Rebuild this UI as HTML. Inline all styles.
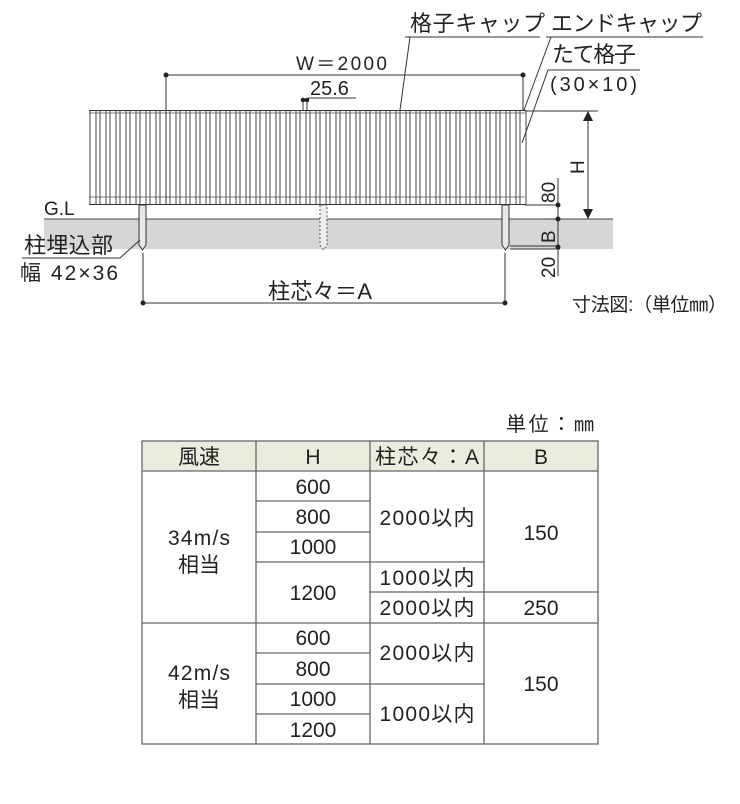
<!DOCTYPE html>
<html><head><meta charset="utf-8"><style>
html,body{margin:0;padding:0;background:#fff;}
svg{display:block;}
text{font-family:"Liberation Sans","Noto Sans CJK JP",sans-serif;fill:#222;}
</style></head><body>
<svg width="740" height="804" viewBox="0 0 740 804" xmlns="http://www.w3.org/2000/svg">
<defs>
<rect id="s" x="0" y="110.5" width="6" height="94" fill="#fff" stroke="#333" stroke-width="0.9"/>
<g id="s5"><use href="#s" x="0"/><use href="#s" x="10"/><use href="#s" x="20"/><use href="#s" x="30"/><use href="#s" x="40"/></g>
</defs>
<!-- ground -->
<rect x="44" y="219" width="569" height="30" fill="#d6d6d6"/>
<line x1="44" y1="219" x2="613" y2="219" stroke="#444" stroke-width="1"/>
<!-- fence -->
<g transform="translate(90,0)">
<use href="#s5" x="0"/><use href="#s5" x="50"/><use href="#s5" x="100"/><use href="#s5" x="150"/>
<use href="#s5" x="200"/><use href="#s5" x="250"/><use href="#s5" x="300"/><use href="#s5" x="350"/>
<use href="#s" x="400"/><use href="#s" x="410"/><use href="#s" x="420"/><use href="#s" x="430"/>
</g>
<line x1="89" y1="113" x2="525" y2="113" stroke="#555" stroke-width="0.7"/>
<line x1="89" y1="197" x2="525" y2="197" stroke="#555" stroke-width="0.7"/>
<line x1="89" y1="110.5" x2="525" y2="110.5" stroke="#333" stroke-width="1"/>
<line x1="89" y1="204.5" x2="525" y2="204.5" stroke="#333" stroke-width="1"/>
<!-- posts -->
<path d="M139 205 V245 L142.5 250 L146 245 V205 Z" fill="#e8e8e8" stroke="#333" stroke-width="1"/>
<path d="M320 205 V245 L323.5 250 L327 245 V205 Z" fill="#eee" stroke="#555" stroke-width="1" stroke-dasharray="2,2"/>
<path d="M502 205 V245 L505.5 250 L509 245 V205 Z" fill="#e8e8e8" stroke="#333" stroke-width="1"/>
<!-- W dimension -->
<line x1="166" y1="75" x2="523" y2="75" stroke="#333" stroke-width="1"/>
<line x1="166" y1="75" x2="166" y2="205" stroke="#333" stroke-width="1"/>
<line x1="523" y1="75" x2="523" y2="110" stroke="#333" stroke-width="1"/>
<circle cx="166" cy="75" r="2.5" fill="#222"/><circle cx="523" cy="75" r="2.5" fill="#222"/>
<text x="296" y="70" font-size="19" textLength="91">W＝2000</text>
<!-- 25.6 -->
<line x1="308" y1="98" x2="356" y2="98" stroke="#333" stroke-width="1"/>
<text x="310" y="95" font-size="20">25.6</text>
<circle cx="303" cy="100" r="2.3" fill="#222"/><circle cx="307" cy="100" r="2.3" fill="#222"/>
<line x1="303" y1="100" x2="303" y2="110" stroke="#333"/><line x1="307" y1="100" x2="307" y2="110" stroke="#333"/>
<!-- labels top right -->
<text x="410" y="31" font-size="22" textLength="135">格子キャップ</text>
<line x1="405" y1="37" x2="540" y2="37" stroke="#333"/>
<line x1="410" y1="37" x2="400" y2="110" stroke="#333"/>
<text x="551" y="31" font-size="22" textLength="151">エンドキャップ</text>
<line x1="546" y1="37" x2="703" y2="37" stroke="#333"/>
<line x1="551" y1="37" x2="524" y2="110" stroke="#333"/>
<text x="552" y="62" font-size="22" textLength="84">たて格子</text>
<line x1="548" y1="70" x2="640" y2="70" stroke="#333"/>
<line x1="548" y1="70" x2="522" y2="143" stroke="#333"/>
<text x="550" y="91" font-size="20" textLength="87">(30×10)</text>
<!-- H -->
<line x1="525" y1="111" x2="598" y2="111" stroke="#333"/>
<line x1="588" y1="118" x2="588" y2="213" stroke="#333"/>
<path d="M583 121 L588 111 L593 121 Z" fill="#222"/>
<path d="M583 209 L588 219 L593 209 Z" fill="#222"/>
<text font-size="19" transform="translate(584,174) rotate(-90)">H</text>
<!-- 80/B/20 -->
<line x1="525" y1="205" x2="560" y2="205" stroke="#333"/>
<line x1="545" y1="219" x2="560" y2="219" stroke="#333"/>
<line x1="510" y1="246" x2="560" y2="246" stroke="#333"/>
<line x1="510" y1="249" x2="560" y2="249" stroke="#333"/>
<line x1="558" y1="178" x2="558" y2="276" stroke="#333"/>
<circle cx="558" cy="205" r="2.5" fill="#222"/><circle cx="558" cy="219" r="2.5" fill="#222"/><circle cx="558" cy="247" r="2.5" fill="#222"/>
<text font-size="19" transform="translate(555,203) rotate(-90)">80</text>
<text font-size="19" transform="translate(555,243) rotate(-90)">B</text>
<text font-size="19" transform="translate(555,278) rotate(-90)">20</text>
<!-- A dimension -->
<line x1="143" y1="253" x2="143" y2="303" stroke="#333"/>
<line x1="505" y1="253" x2="505" y2="303" stroke="#333"/>
<line x1="143" y1="303" x2="505" y2="303" stroke="#333"/>
<circle cx="143" cy="303" r="2.5" fill="#222"/><circle cx="505" cy="303" r="2.5" fill="#222"/>
<text x="268" y="299" font-size="22" textLength="104">柱芯々＝A</text>
<!-- left labels -->
<text x="44" y="215" font-size="19">G.L</text>
<text x="24" y="253" font-size="22" textLength="89">柱埋込部</text>
<line x1="22" y1="258" x2="120" y2="258" stroke="#333"/>
<line x1="120" y1="258" x2="140" y2="240" stroke="#333"/>
<text x="20" y="280" font-size="21" textLength="98">幅 42×36</text>
<text x="572" y="311" font-size="19" textLength="155">寸法図:（単位㎜）</text>
<!-- table -->
<text x="506" y="431" font-size="20" textLength="88">単位：㎜</text>
<rect x="142" y="441" width="456" height="30" fill="#ecebdf"/>
<g stroke="#666" stroke-width="1.3" fill="none">
<rect x="142" y="441" width="456" height="303"/>
<line x1="256" y1="441" x2="256" y2="744"/>
<line x1="370" y1="441" x2="370" y2="744"/>
<line x1="484" y1="441" x2="484" y2="744"/>
<line x1="142" y1="471" x2="598" y2="471"/>
<line x1="256" y1="501" x2="370" y2="501"/>
<line x1="256" y1="532" x2="370" y2="532"/>
<line x1="256" y1="562" x2="484" y2="562"/>
<line x1="370" y1="592" x2="598" y2="592"/>
<line x1="142" y1="623" x2="598" y2="623"/>
<line x1="256" y1="653" x2="370" y2="653"/>
<line x1="256" y1="684" x2="484" y2="684"/>
<line x1="256" y1="714" x2="370" y2="714"/>
</g>
<g font-size="21" text-anchor="middle">
<text x="199" y="464">風速</text>
<text x="313" y="464">H</text>
<text x="427" y="464" textLength="104">柱芯々：A</text>
<text x="541" y="464">B</text>
<text x="313" y="494">600</text>
<text x="313" y="524">800</text>
<text x="313" y="554">1000</text>
<text x="313" y="600">1200</text>
<text x="427" y="525" textLength="95">2000以内</text>
<text x="427" y="585" textLength="95">1000以内</text>
<text x="427" y="615" textLength="95">2000以内</text>
<text x="541" y="540">150</text>
<text x="541" y="615">250</text>
<text x="199" y="545" textLength="62">34m/s</text>
<text x="199" y="572">相当</text>
<text x="313" y="645">600</text>
<text x="313" y="676">800</text>
<text x="313" y="706">1000</text>
<text x="313" y="737">1200</text>
<text x="427" y="660" textLength="95">2000以内</text>
<text x="427" y="721" textLength="95">1000以内</text>
<text x="541" y="691">150</text>
<text x="199" y="680" textLength="62">42m/s</text>
<text x="199" y="707">相当</text>
</g>
</svg>
</body></html>
